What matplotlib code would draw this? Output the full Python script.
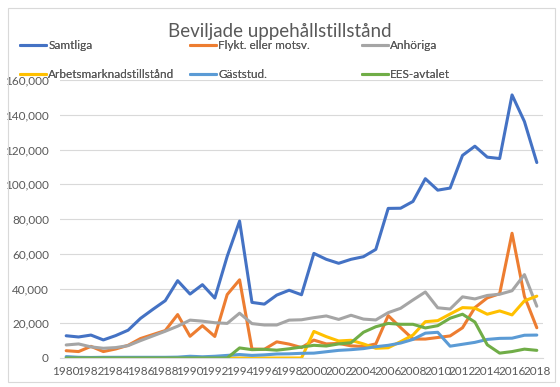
import matplotlib.pyplot as plt
from matplotlib.patches import Rectangle
from matplotlib.ticker import FuncFormatter, MultipleLocator

plt.rcParams['font.family'] = ['Lato', 'DejaVu Sans']

years = list(range(1980, 2019))

samtliga = [12800, 12100, 13200, 10400, 12900, 16000, 22800, 28000, 33000, 44500,
            36800, 42200, 34500, 58500, 78800, 32000, 31000, 36200, 39000, 36400,
            60200, 56800, 54500, 56800, 58300, 62500, 86100, 86200, 90100, 103200,
            96600, 97800, 116600, 121900, 115600, 114800, 151400, 136100, 112500]
flykt = [4200, 3700, 6700, 3700, 5200, 7300, 11200, 13500, 15800, 25000,
         12500, 18600, 12400, 36500, 45000, 5200, 5000, 9300, 8000, 6000,
         10300, 8100, 8400, 7000, 6600, 8100, 24400, 17500, 10900, 10900,
         11800, 12700, 17400, 29000, 34600, 37000, 71800, 35500, 17400]
anhoriga = [7500, 8100, 6400, 5600, 6000, 7100, 10000, 12700, 15400, 18300,
            21800, 21200, 20300, 19900, 25800, 19800, 19000, 19000, 21800, 22000,
            23200, 24200, 22200, 24600, 22400, 21900, 26100, 28600, 33400, 38000,
            28900, 28200, 35200, 34000, 36000, 36700, 38700, 48000, 29800]
arbete = [0] * 20 + [15300, 12300, 9800, 10200, 8100, 5600, 5900, 9400, 13200, 20900,
                     21500, 25300, 29000, 28700, 25200, 27100, 24800, 32900, 35600]
gaststud = [800, 400, 300, 400, 400, 400, 400, 400, 400, 500,
            1000, 700, 1000, 1500, 2000, 1500, 1800, 2300, 2400, 2700,
            2800, 3600, 4400, 4800, 5400, 6500, 7300, 8600, 10700, 14300,
            14800, 6800, 7900, 9000, 10700, 11300, 11400, 13100, 13200]
ees = [0] * 14 + [5800, 4800, 5000, 4500, 5300, 6300, 7300, 6900, 8100, 8800,
                  14800, 18000, 19900, 19400, 19400, 17300, 18600, 22900, 25200, 20700,
                  7600, 2800, 3700, 5100, 4400]

series = [
    ('Samtliga', samtliga, '#4472C4'),
    ('Flykt. eller motsv.', flykt, '#ED7D31'),
    ('Anhöriga', anhoriga, '#A5A5A5'),
    ('Arbetsmarknadstillstånd', arbete, '#FFC000'),
    ('Gäststud.', gaststud, '#5B9BD5'),
    ('EES-avtalet', ees, '#70AD47'),
]

txt = '#595959'
grid = '#D9D9D9'

fig = plt.figure(figsize=(5.6, 3.87), dpi=100)
fig.patches.append(Rectangle((8 / 560, 5 / 387), 547 / 560, 374 / 387,
                             transform=fig.transFigure, fill=False,
                             edgecolor=grid, linewidth=0.8))

ax = fig.add_axes([60 / 560, 29 / 387, 483 / 560, 278 / 387])
x = list(range(len(years)))
handles = []
for name, vals, col in series:
    ln, = ax.plot(x, vals, color=col, linewidth=2.2, solid_joinstyle='round',
                  solid_capstyle='round', label=name)
    handles.append(ln)

ax.set_xlim(-0.5, len(years) - 0.5)
ax.set_ylim(0, 160000)
ax.yaxis.set_major_locator(MultipleLocator(20000))
ax.yaxis.set_major_formatter(FuncFormatter(lambda v, p: f'{int(v):,}'))
ax.set_xticks(x[::2])
ax.set_xticklabels([str(y) for y in years[::2]])
ax.grid(axis='y', color=grid, linewidth=0.8)
ax.set_axisbelow(True)
for s in ['top', 'right', 'left']:
    ax.spines[s].set_visible(False)
ax.spines['bottom'].set_color(grid)
ax.spines['bottom'].set_linewidth(0.8)
ax.tick_params(length=0, labelsize=8.5, colors=txt)
ax.tick_params(axis='y', pad=8)
ax.tick_params(axis='x', pad=6)

fig.text(0.5, 1 - 31 / 387, 'Beviljade uppehållstillstånd', ha='center', va='center',
         fontsize=13.5, color=txt)

# three legend columns, two rows each
col_x = [20 / 560, 190 / 560, 362 / 560]
for i, cx in enumerate(col_x):
    hs = [handles[i], handles[i + 3]]
    leg = fig.legend(hs, [h.get_label() for h in hs], loc='upper left',
                     bbox_to_anchor=(cx, 1 - 40 / 387), frameon=False,
                     fontsize=8.5, handlelength=2.2, handletextpad=0.2,
                     labelspacing=1.5, borderaxespad=0, borderpad=0)
    for t in leg.get_texts():
        t.set_color(txt)
    fig.add_artist(leg)

fig.savefig('out.png', dpi=100)
